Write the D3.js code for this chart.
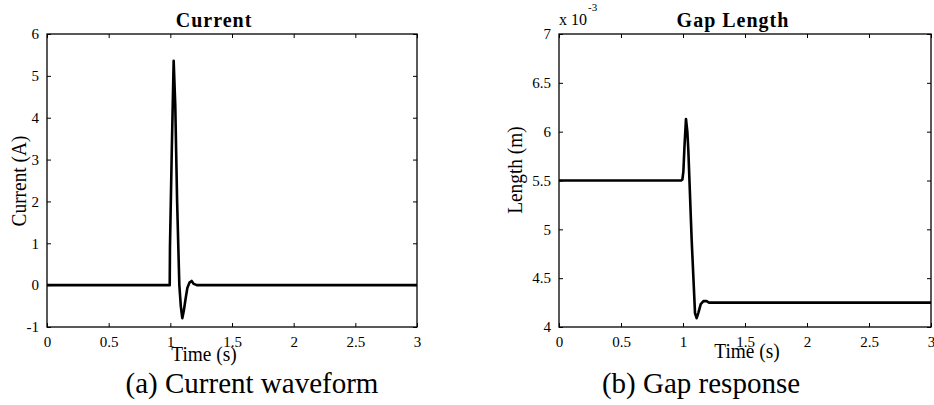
<!DOCTYPE html>
<html>
<head>
<meta charset="utf-8">
<script src="https://cdn.jsdelivr.net/npm/d3@7"></script>
<style>
  body { margin: 0; background: #fff; }
  svg text { font-family: "Liberation Serif", "Times New Roman", serif; fill: #000; }
</style>
</head>
<body>
<script>
// time axis ticks shared by both panels
const timeTicks = [0, 0.5, 1, 1.5, 2, 2.5, 3];

// (a) current waveform, amps
const currentTime = [0, 0.995, 0.997, 1.011, 1.027, 1.04, 1.055, 1.073, 1.085, 1.097, 1.11, 1.125, 1.138, 1.155, 1.173, 1.19, 1.214, 3];
const currentVal  = [0, 0, 0.9, 3.1, 5.36, 4.3, 2.0, 0, -0.5, -0.79, -0.6, -0.3, -0.07, 0.06, 0.1, 0.03, 0, 0];
const currentTicks = [-1, 0, 1, 2, 3, 4, 5, 6];

// (b) gap length, x 10^-3 m
const gapTime = [0, 0.985, 0.995, 1.003, 1.012, 1.024, 1.035, 1.043, 1.07, 1.097, 1.11, 1.125, 1.143, 1.165, 1.19, 1.21, 3];
const gapVal  = [5.5, 5.5, 5.51, 5.59, 5.85, 6.13, 6.0, 5.81, 4.89, 4.14, 4.09, 4.15, 4.235, 4.265, 4.265, 4.25, 4.25];
const gapTicks = [4, 4.5, 5, 5.5, 6, 6.5, 7];

const W = 934, H = 405;
const serif = '"Liberation Serif", "Times New Roman", serif';
const svg = d3.select('body').append('svg').attr('width', W).attr('height', H);

// plain number labels with an ascii hyphen, like matlab prints them
const fmt = d => String(d);

function panel(opt) {
    const x = d3.scaleLinear().domain([0, 3]).range([opt.left, opt.right]);
    const y = d3.scaleLinear().domain(opt.yDomain).range([opt.bottom, opt.top]);
    const g = svg.append('g');

    // inward ticks on all four sides
    const tk = 4;
    g.append('g').attr('transform', `translate(0,${opt.bottom})`)
        .call(d3.axisBottom(x).tickValues(timeTicks).tickSize(-tk).tickPadding(9).tickFormat(fmt));
    g.append('g').attr('transform', `translate(0,${opt.top})`)
        .call(d3.axisTop(x).tickValues(timeTicks).tickSize(-tk).tickFormat(''));
    g.append('g').attr('transform', `translate(${opt.left},0)`)
        .call(d3.axisLeft(y).tickValues(opt.yTicks).tickSize(-tk).tickPadding(8).tickFormat(fmt));
    g.append('g').attr('transform', `translate(${opt.right},0)`)
        .call(d3.axisRight(y).tickValues(opt.yTicks).tickSize(-tk).tickFormat(''));

    g.selectAll('.domain').remove();
    g.selectAll('g').attr('font-family', serif).attr('font-size', 15);
    g.selectAll('.tick line').attr('stroke', '#000').attr('stroke-width', 1);
    g.selectAll('.tick text').attr('fill', '#000');

    g.append('rect')
        .attr('x', opt.left).attr('y', opt.top)
        .attr('width', opt.right - opt.left).attr('height', opt.bottom - opt.top)
        .attr('fill', 'none').attr('stroke', '#000').attr('stroke-width', 1.3);

    const pts = opt.xs.map((t, i) => [t, opt.ys[i]]);
    g.append('path')
        .datum(pts)
        .attr('fill', 'none')
        .attr('stroke', '#000')
        .attr('stroke-width', 2.6)
        .attr('stroke-linejoin', 'round')
        .attr('d', d3.line().x(d => x(d[0])).y(d => y(d[1])));

    g.append('text')
        .attr('x', opt.titleX).attr('y', 27)
        .attr('text-anchor', 'middle')
        .style('font-size', '20px').style('font-weight', 'bold').style('letter-spacing', '1px')
        .text(opt.title);

    // axis labels are a bit narrow in the original, squeeze them along the text
    g.append('text')
        .attr('transform', `translate(${opt.xlabX},${opt.xlabY}) scale(0.88,1)`)
        .attr('text-anchor', 'middle')
        .style('font-size', '22px')
        .text('Time (s)');

    g.append('text')
        .attr('transform', `translate(${opt.ylabX},${opt.ylabY}) rotate(-90) scale(0.88,1)`)
        .attr('text-anchor', 'middle')
        .style('font-size', '22px')
        .text(opt.ylabel);

    g.append('text')
        .attr('x', opt.capX).attr('y', 393)
        .attr('text-anchor', 'middle')
        .style('font-size', '29px')
        .text(opt.caption);

    return { x, y, g };
}

panel({
    left: 47, right: 417, top: 34, bottom: 327,
    yDomain: [-1, 6], yTicks: currentTicks,
    xs: currentTime, ys: currentVal,
    title: 'Current', titleX: 214,
    xlabX: 204, xlabY: 361,
    ylabel: 'Current (A)', ylabX: 26, ylabY: 181,
    caption: '(a) Current waveform', capX: 252
});

const b = panel({
    left: 559, right: 931, top: 34, bottom: 327,
    yDomain: [4, 7], yTicks: gapTicks,
    xs: gapTime, ys: gapVal,
    title: 'Gap Length', titleX: 733,
    xlabX: 747, xlabY: 358,
    ylabel: 'Length (m)', ylabX: 522, ylabY: 170,
    caption: '(b) Gap response', capX: 701
});

// exponent label over the y axis
const ex = b.g.append('text').attr('x', 559).attr('y', 25).style('font-size', '16px');
ex.append('tspan').text('x 10');
ex.append('tspan').attr('dy', -14).attr('dx', 1).style('font-size', '11px').text('-3');
</script>
</body>
</html>
